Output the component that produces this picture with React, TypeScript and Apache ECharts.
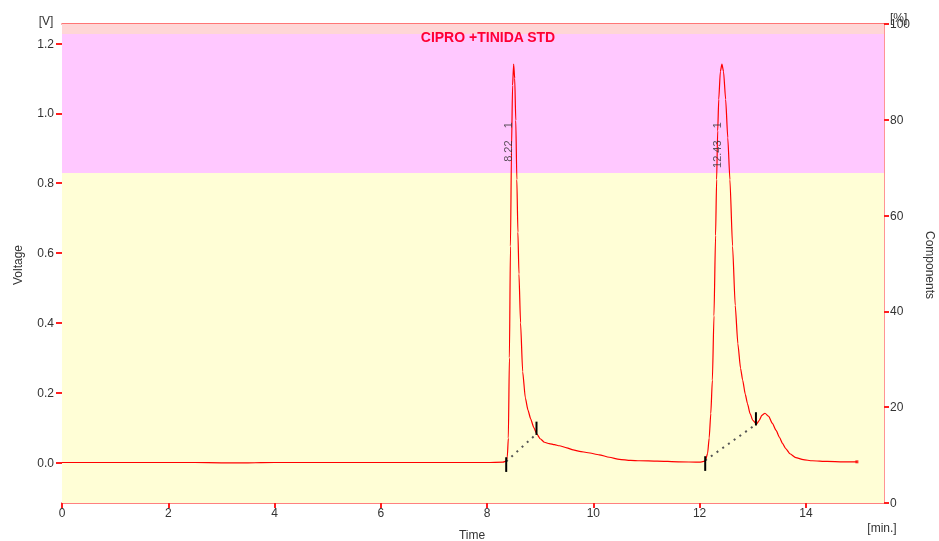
import React, { useEffect, useRef } from "react";
import * as echarts from "echarts";

// Chromatogram trace (time in min, signal in V)
const traceTime = [
  0, 0.5, 1, 1.5, 2, 2.5, 3, 3.5, 4, 4.5, 5, 5.5, 6, 6.5, 7, 7.5, 8, 8.3,
  8.36, 8.38, 8.4, 8.42, 8.44, 8.46, 8.48, 8.5, 8.52, 8.54, 8.56, 8.58, 8.6, 8.63, 8.67,
  8.72, 8.77, 8.82, 8.88, 8.93, 9.0, 9.08, 9.17, 9.27, 9.36, 9.5, 9.62, 9.74, 9.9,
  10.11, 10.3, 10.49, 10.7, 10.87, 11.2, 11.6, 12.0, 12.08,
  12.11, 12.15, 12.18, 12.21, 12.24, 12.27, 12.3, 12.32, 12.34, 12.36, 12.39, 12.42,
  12.45, 12.49, 12.53, 12.57, 12.62, 12.67, 12.72, 12.77, 12.81, 12.86, 12.9, 12.95,
  13.0, 13.07, 13.12, 13.17, 13.23, 13.3, 13.37, 13.44, 13.5, 13.56, 13.62, 13.7,
  13.81, 13.95, 14.12, 14.4, 14.7, 14.96,
];
const traceVoltage = [
  0.0, 0.0, 0.0, 0.0, 0.0, 0.0, -0.001, -0.001, 0.0, 0.0, 0.0, 0.0, 0.0, 0.0, 0.0, 0.0, 0.0, 0.001,
  0.004, 0.015, 0.07, 0.3, 0.62, 0.9, 1.08, 1.141, 1.1, 0.98, 0.81, 0.66, 0.54, 0.4, 0.26,
  0.185, 0.15, 0.125, 0.1, 0.083, 0.068, 0.058, 0.054, 0.051, 0.048, 0.042, 0.036, 0.032, 0.028,
  0.022, 0.015, 0.009, 0.006, 0.005, 0.004, 0.002, 0.001, 0.003,
  0.006, 0.026, 0.07, 0.14, 0.236, 0.42, 0.65, 0.81, 0.95, 1.04, 1.12, 1.141,
  1.12, 1.04, 0.93, 0.81, 0.62, 0.45, 0.34, 0.27, 0.236, 0.195, 0.169, 0.14,
  0.121, 0.11, 0.12, 0.135, 0.141, 0.132, 0.112, 0.092, 0.073, 0.055, 0.04, 0.025,
  0.014, 0.008, 0.005, 0.003, 0.002, 0.002,
];

// Peak integration (baseline start / end)
const peakStartTime = [8.36, 12.105];
const peakStartVoltage = [0.003, 0.006];
const peakEndTime = [8.93, 13.06];
const peakEndVoltage = [0.082, 0.109];

// Peak labels
const peakRetention = ["8.22", "12.43"];
const peakNumber = ["1", "1"];
const peakLabelTime = [8.39, 12.32];
const peakLabelVoltage = [0.975, 0.975];

// Axis ticks
const xTicks = [0, 2, 4, 6, 8, 10, 12, 14];
const yTicks = [0, 0.2, 0.4, 0.6, 0.8, 1.0, 1.2];
const xMin = 0;
const xMax = 15.47;
const yMin = -0.116;
const yMax = 1.256;

// Background bands (V)
const bandLimits = [yMin, 0.829, 1.227, yMax];
const bandColors = ["#FFFED6", "#FFC8FF", "#FFD6D6"];

const FONT = "Liberation Sans, Arial, sans-serif";

export default function App() {
  const ref = useRef<HTMLDivElement>(null);
  useEffect(() => {
    if (!ref.current) return;
    const chart = echarts.init(ref.current, undefined, { renderer: "svg" });

    const trace = traceTime.map((t, i) => [t, traceVoltage[i]]);
    const bands = bandColors.map((c, i) => [
      { coord: [xMin, bandLimits[i]], itemStyle: { color: c } },
      { coord: [xMax, bandLimits[i + 1]] },
    ]);

    const tickSeries: any[] = [];
    peakStartTime.forEach((t, i) => {
      const v = peakStartVoltage[i];
      tickSeries.push({
        type: "line",
        data: [[t, v - 0.03], [t, v + 0.012]],
        symbol: "none",
        lineStyle: { color: "#000", width: 2 },
        z: 5,
        silent: true,
      });
      const te = peakEndTime[i];
      const ve = peakEndVoltage[i];
      tickSeries.push({
        type: "line",
        data: [[te, ve - 0.003], [te, ve + 0.035]],
        symbol: "none",
        lineStyle: { color: "#000", width: 2 },
        z: 5,
        silent: true,
      });
      tickSeries.push({
        type: "line",
        data: [[t, v], [te, ve]],
        symbol: "none",
        lineStyle: { color: "#555", width: 2, type: [2, 5] },
        z: 4,
        silent: true,
      });
    });

    const labelData = peakLabelTime.map((t, i) => ({
      value: [t, peakLabelVoltage[i]],
      name: peakRetention[i] + "    " + peakNumber[i],
    }));

    chart.setOption({
      animation: false,
      grid: { left: 62, right: 55, top: 24, bottom: 38 },
      xAxis: [
        {
          type: "value",
          min: xMin,
          max: xMax,
          position: "bottom",
          axisLine: { onZero: false, lineStyle: { color: "#FF8080", width: 2 } },
          axisTick: {
            show: true,
            length: 5,
            customValues: xTicks,
            lineStyle: { color: "#FF2020", width: 2 },
          },
          axisLabel: {
            customValues: xTicks,
            color: "#333",
            fontSize: 12,
            fontFamily: FONT,
            margin: 4,
          },
          splitLine: { show: false },
        },
        {
          type: "value",
          min: xMin,
          max: xMax,
          position: "top",
          axisLine: { onZero: false, lineStyle: { color: "#FF4848", width: 1.5 } },
          axisTick: { show: false },
          axisLabel: { show: false },
          splitLine: { show: false },
        },
      ],
      yAxis: [
        {
          type: "value",
          min: yMin,
          max: yMax,
          position: "left",
          axisLine: { show: true, onZero: false, lineStyle: { color: "rgba(0,0,0,0)" } },
          axisTick: {
            show: true,
            length: 6,
            customValues: yTicks,
            lineStyle: { color: "#FF2020", width: 2 },
          },
          axisLabel: {
            customValues: yTicks,
            formatter: (v: number) => v.toFixed(1),
            color: "#333",
            fontSize: 12,
            fontFamily: FONT,
            margin: 8,
          },
          splitLine: { show: false },
        },
        {
          type: "value",
          min: 0,
          max: 100,
          interval: 20,
          position: "right",
          axisLine: { show: true, onZero: false, lineStyle: { color: "#FF7070", width: 1.5 } },
          axisTick: { show: true, length: 5, lineStyle: { color: "#FF2020", width: 2 } },
          axisLabel: { color: "#333", fontSize: 12, fontFamily: FONT, margin: 6 },
          splitLine: { show: false },
        },
      ],
      series: [
        {
          type: "line",
          data: trace,
          symbol: "none",
          smooth: 0.2,
          smoothMonotone: "x",
          lineStyle: { color: "#FF0000", width: 1.2 },
          z: 3,
          silent: true,
          markArea: { silent: true, data: bands, z: 1 },
        },
        ...tickSeries,
        {
          type: "scatter",
          data: [[traceTime[traceTime.length - 1], traceVoltage[traceVoltage.length - 1]]],
          symbol: "rect",
          symbolSize: 3,
          itemStyle: { color: "#FF0000" },
          z: 6,
          silent: true,
        },
        {
          type: "scatter",
          data: labelData,
          symbolSize: 0,
          silent: true,
          z: 6,
          label: {
            show: true,
            position: "inside",
            formatter: (p: any) => p.name,
            rotate: 90,
            align: "right",
            verticalAlign: "middle",
            color: "#333",
            fontSize: 11,
            fontFamily: FONT,
          },
        },
      ],
      graphic: [
        {
          type: "text",
          x: 488,
          y: 37,
          z: 100,
          style: {
            text: "CIPRO +TINIDA STD",
            fill: "#FF0033",
            font: "bold 14px " + FONT,
            align: "center",
            verticalAlign: "middle",
          },
        },
        {
          type: "text",
          x: 46,
          y: 21,
          z: 100,
          style: { text: "[V]", fill: "#333", font: "12px " + FONT, align: "center", verticalAlign: "middle" },
        },
        {
          type: "text",
          x: 890,
          y: 18,
          z: 100,
          style: { text: "[%]", fill: "#333", font: "12px " + FONT, align: "left", verticalAlign: "middle" },
        },
        {
          type: "text",
          x: 882,
          y: 528,
          z: 100,
          style: { text: "[min.]", fill: "#333", font: "12px " + FONT, align: "center", verticalAlign: "middle" },
        },
        {
          type: "text",
          x: 472,
          y: 535,
          z: 100,
          style: { text: "Time", fill: "#333", font: "12px " + FONT, align: "center", verticalAlign: "middle" },
        },
        {
          type: "text",
          x: 18,
          y: 265,
          z: 100,
          rotation: Math.PI / 2,
          style: { text: "Voltage", fill: "#333", font: "12px " + FONT, align: "center", verticalAlign: "middle" },
        },
        {
          type: "text",
          x: 930,
          y: 265,
          z: 100,
          rotation: -Math.PI / 2,
          style: { text: "Components", fill: "#333", font: "12px " + FONT, align: "center", verticalAlign: "middle" },
        },
      ],
    });
    return () => chart.dispose();
  }, []);
  return (
    <div
      ref={ref}
      style={{ position: "fixed", left: 0, top: 0, width: 939, height: 541 }}
    />
  );
}
